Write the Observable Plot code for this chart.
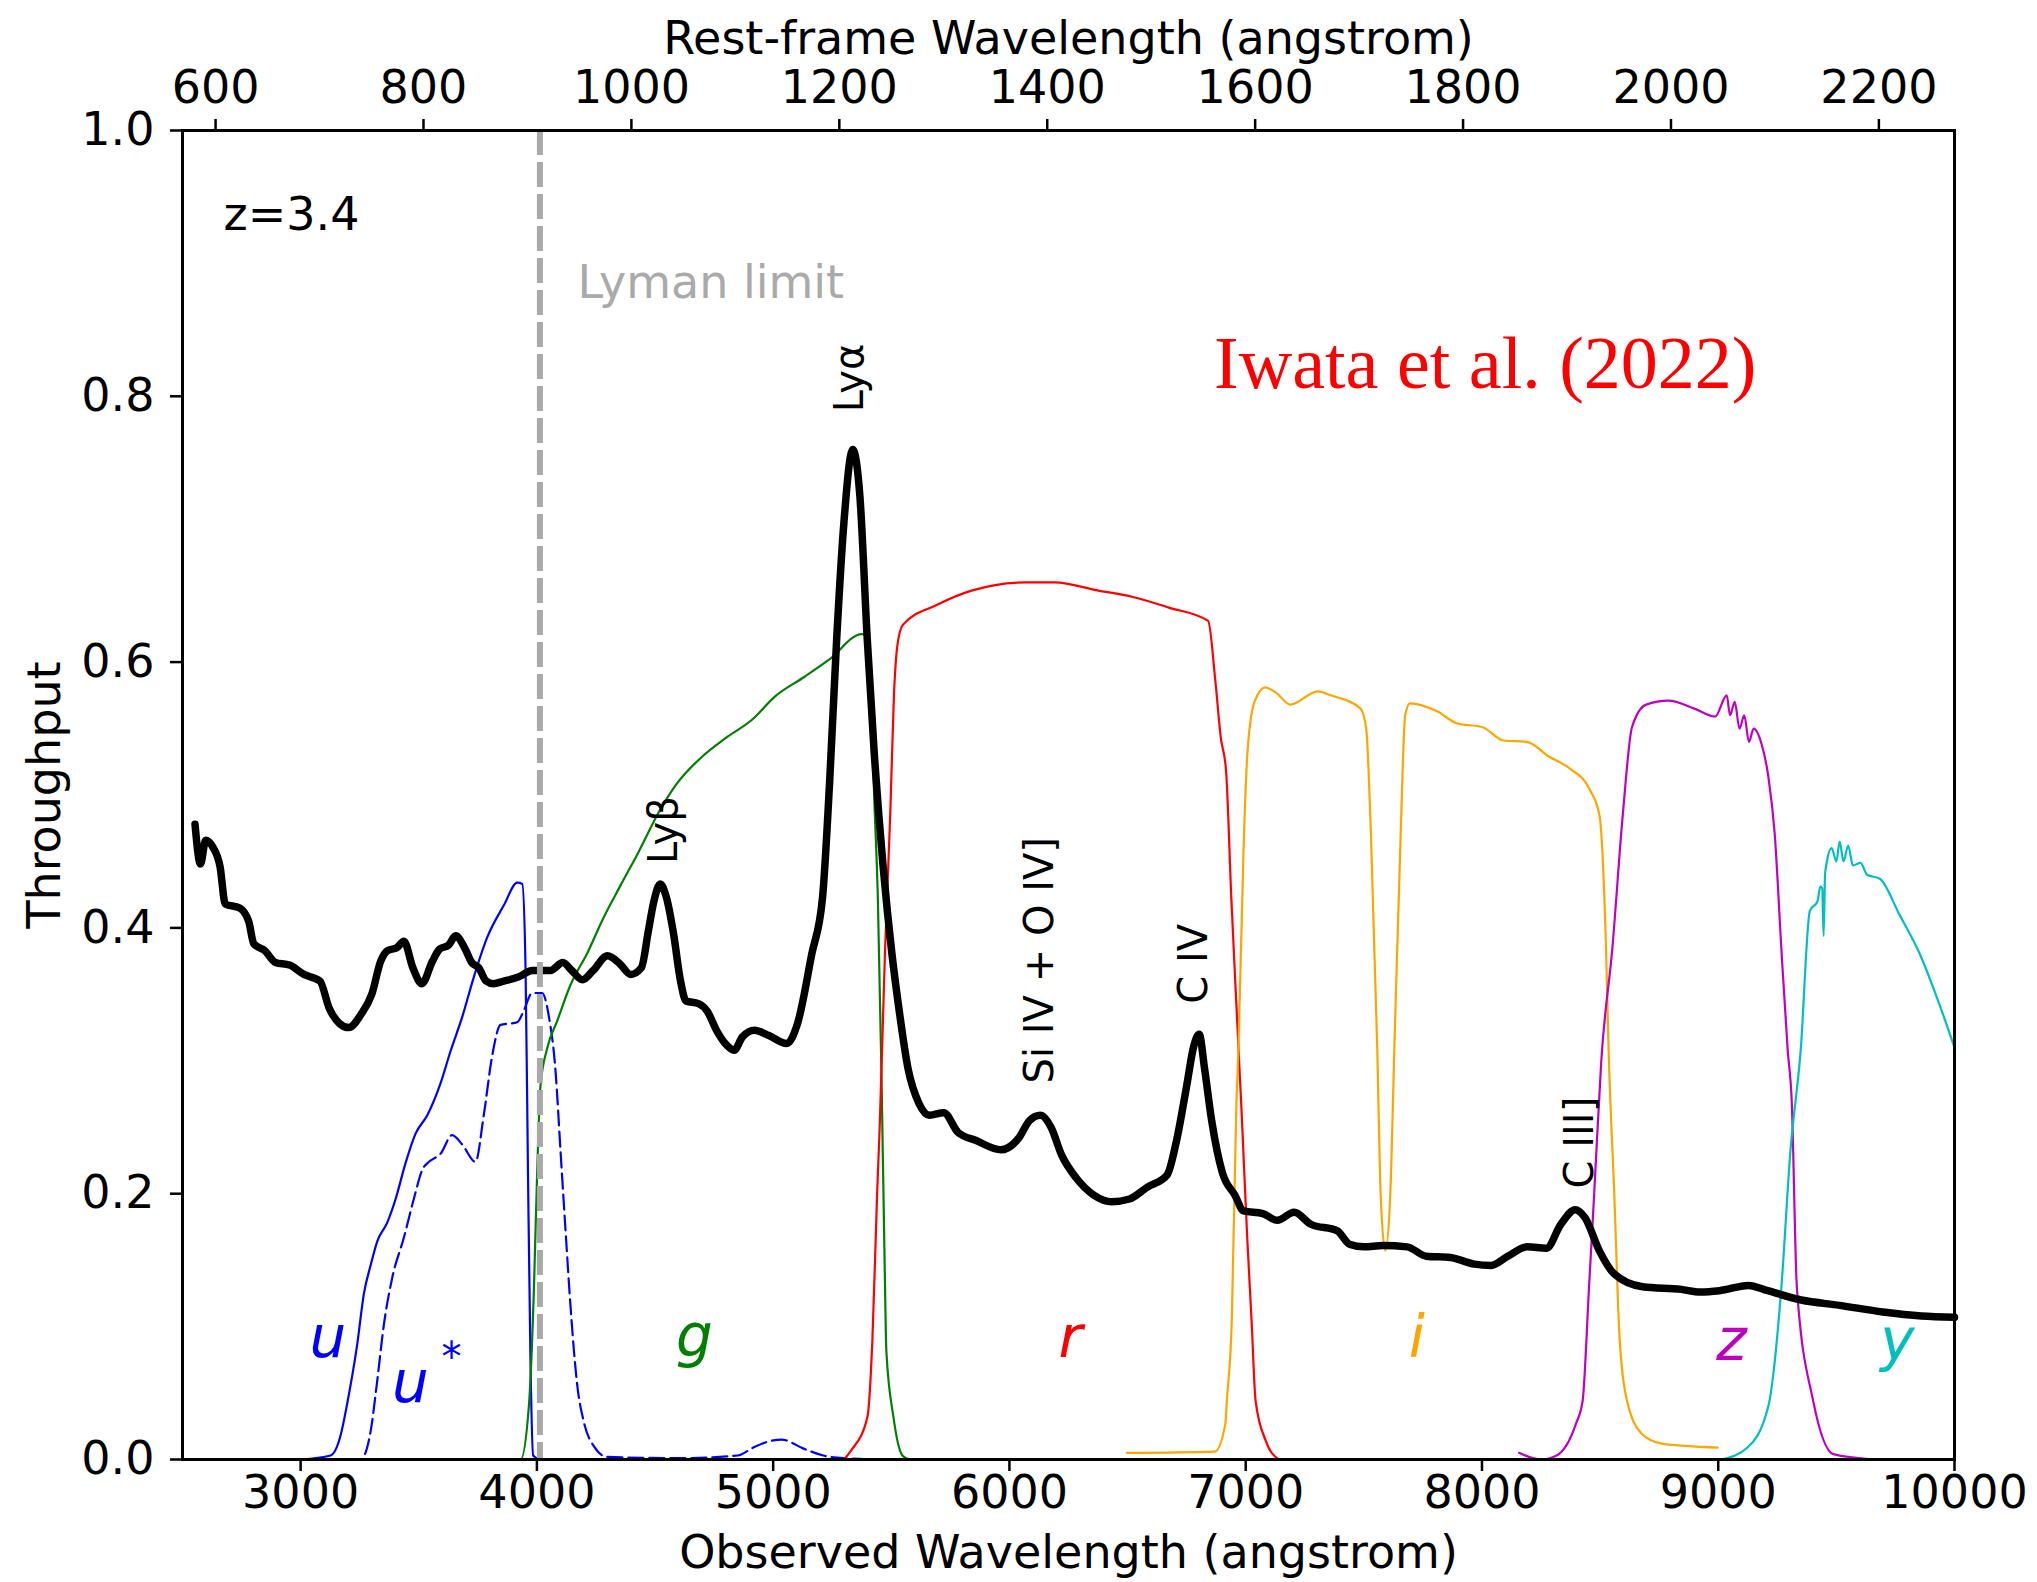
<!DOCTYPE html>
<html>
<head>
<meta charset="utf-8">
<script src="https://cdn.jsdelivr.net/npm/d3@7"></script>
<script src="https://cdn.jsdelivr.net/npm/@observablehq/plot@0.6"></script>
<style>
  html, body { margin: 0; padding: 0; background: #fff; }
  #chart svg { display: block; }
</style>
</head>
<body>
<div id="chart"></div>
<script>
// ---------------- data ----------------
const redshift = 3.4;
const lymanLimitRest = 912;

const obsTicks = [3000, 4000, 5000, 6000, 7000, 8000, 9000, 10000];
const restTicks = [600, 800, 1000, 1200, 1400, 1600, 1800, 2000, 2200];
const yTicks = [0, 0.2, 0.4, 0.6, 0.8, 1.0];

// composite spectrum (black)
const specWave = [2553, 2576, 2598, 2628, 2659, 2681, 2742, 2780, 2802, 2848, 2893, 2953, 3014, 3082, 3120, 3165, 3203, 3256, 3301, 3339, 3369, 3407, 3437, 3475, 3513, 3558, 3588, 3626, 3656, 3694, 3724, 3754, 3785, 3815, 3860, 3921, 3981, 4057, 4110, 4147, 4193, 4238, 4299, 4351, 4397, 4442, 4472, 4495, 4522, 4548, 4578, 4608, 4631, 4684, 4722, 4760, 4797, 4835, 4870, 4921, 4982, 5057, 5103, 5163, 5209, 5239, 5269, 5299, 5337, 5367, 5398, 5428, 5466, 5503, 5534, 5571, 5617, 5662, 5722, 5783, 5859, 5964, 6040, 6085, 6131, 6176, 6221, 6282, 6357, 6433, 6508, 6584, 6667, 6705, 6750, 6780, 6803, 6826, 6856, 6901, 6954, 6991, 7073, 7134, 7205, 7276, 7388, 7439, 7500, 7581, 7683, 7764, 7866, 7968, 8039, 8110, 8191, 8273, 8334, 8395, 8436, 8497, 8558, 8680, 8843, 8924, 9005, 9128, 9209, 9351, 9514, 9697, 9860, 10000];
const specFlux = [0.478, 0.448, 0.466, 0.461, 0.446, 0.418, 0.415, 0.405, 0.388, 0.383, 0.374, 0.372, 0.365, 0.360, 0.340, 0.328, 0.325, 0.335, 0.350, 0.375, 0.383, 0.385, 0.390, 0.370, 0.358, 0.375, 0.384, 0.387, 0.394, 0.385, 0.374, 0.370, 0.360, 0.358, 0.360, 0.363, 0.368, 0.368, 0.374, 0.368, 0.361, 0.368, 0.379, 0.373, 0.365, 0.370, 0.398, 0.420, 0.433, 0.423, 0.396, 0.360, 0.345, 0.343, 0.337, 0.323, 0.313, 0.308, 0.318, 0.323, 0.319, 0.313, 0.328, 0.380, 0.423, 0.510, 0.618, 0.704, 0.760, 0.725, 0.618, 0.531, 0.445, 0.380, 0.337, 0.294, 0.268, 0.259, 0.261, 0.246, 0.240, 0.233, 0.242, 0.255, 0.259, 0.250, 0.229, 0.212, 0.199, 0.194, 0.196, 0.205, 0.214, 0.238, 0.281, 0.311, 0.320, 0.294, 0.255, 0.216, 0.199, 0.187, 0.185, 0.180, 0.186, 0.177, 0.172, 0.162, 0.160, 0.161, 0.160, 0.153, 0.152, 0.147, 0.146, 0.153, 0.160, 0.159, 0.177, 0.188, 0.182, 0.157, 0.140, 0.130, 0.128, 0.126, 0.127, 0.131, 0.127, 0.120, 0.116, 0.111, 0.108, 0.107];

// filter throughputs
const uWave = [3000, 3127, 3169, 3197, 3239, 3268, 3296, 3324, 3366, 3402, 3444, 3486, 3536, 3592, 3634, 3684, 3733, 3790, 3860, 3917, 3938, 3952, 3962, 3973, 3984, 4010];
const uThru = [0, 0.003, 0.018, 0.042, 0.086, 0.125, 0.146, 0.164, 0.178, 0.196, 0.223, 0.245, 0.259, 0.283, 0.307, 0.333, 0.363, 0.393, 0.417, 0.434, 0.433, 0.369, 0.220, 0.072, 0.003, 0];

const ustarWave = [3197, 3254, 3296, 3324, 3352, 3388, 3437, 3479, 3515, 3543, 3592, 3641, 3684, 3740, 3775, 3811, 3846, 3917, 3945, 3980, 4022, 4051, 4079, 4100, 4121, 4142, 4170, 4199, 4241, 4297, 4600, 4850, 4916, 4970, 5035, 5131, 5212, 5300, 5454];
const ustarThru = [0, 0, 0.021, 0.059, 0.101, 0.137, 0.167, 0.196, 0.218, 0.224, 0.230, 0.244, 0.237, 0.224, 0.259, 0.304, 0.327, 0.329, 0.338, 0.351, 0.351, 0.333, 0.292, 0.232, 0.173, 0.116, 0.057, 0.028, 0.010, 0.002, 0.001, 0.003, 0.009, 0.013, 0.015, 0.008, 0.003, 0.001, 0];

const gWave = [3677, 3931, 3966, 3987, 4001, 4015, 4043, 4086, 4142, 4213, 4283, 4354, 4430, 4525, 4590, 4700, 4800, 4913, 5007, 5133, 5238, 5375, 5395, 5415, 5428, 5443, 5458, 5473, 5479, 5509, 5547, 5580, 6000];
const gThru = [0, 0, 0.04, 0.126, 0.215, 0.281, 0.309, 0.330, 0.357, 0.381, 0.408, 0.432, 0.457, 0.490, 0.508, 0.529, 0.543, 0.557, 0.574, 0.589, 0.602, 0.621, 0.620, 0.570, 0.497, 0.423, 0.294, 0.135, 0.082, 0.032, 0.003, 0, 0];

const rWave = [5300, 5331, 5399, 5420, 5440, 5451, 5473, 5496, 5511, 5526, 5549, 5692, 5843, 6070, 6191, 6372, 6523, 6675, 6841, 6871, 6894, 6917, 6939, 6962, 6983, 7007, 7025, 7042, 7085, 7140];
const rThru = [0, 0.007, 0.032, 0.09, 0.20, 0.251, 0.380, 0.488, 0.574, 0.613, 0.628, 0.643, 0.654, 0.660, 0.660, 0.654, 0.649, 0.641, 0.631, 0.587, 0.544, 0.518, 0.423, 0.337, 0.260, 0.165, 0.104, 0.044, 0.014, 0];

const iWave = [6497, 6870, 6914, 6920, 6941, 6961, 6969, 6992, 7007, 7037, 7083, 7128, 7189, 7305, 7360, 7486, 7510, 7530, 7557, 7571, 7591, 7612, 7629, 7656, 7675, 7695, 7810, 7893, 8003, 8091, 8190, 8283, 8371, 8453, 8497, 8525, 8536, 8560, 8580, 8607, 8673, 8761, 8998];
const iThru = [0.005, 0.006, 0.027, 0.044, 0.104, 0.270, 0.308, 0.466, 0.531, 0.570, 0.581, 0.577, 0.568, 0.578, 0.575, 0.565, 0.550, 0.471, 0.308, 0.200, 0.157, 0.200, 0.308, 0.471, 0.560, 0.569, 0.563, 0.554, 0.551, 0.541, 0.540, 0.529, 0.520, 0.505, 0.485, 0.385, 0.308, 0.200, 0.100, 0.050, 0.020, 0.012, 0.009];

const zWave = [8157, 8250, 8316, 8398, 8426, 8453, 8475, 8505, 8552, 8596, 8635, 8695, 8789, 8899, 8987, 9036, 9050, 9070, 9090, 9110, 9130, 9150, 9184, 9212, 9239, 9267, 9294, 9311, 9333, 9402, 9487, 9657];
const zThru = [0.005, 0, 0.003, 0.027, 0.044, 0.129, 0.200, 0.300, 0.385, 0.485, 0.551, 0.568, 0.571, 0.565, 0.559, 0.575, 0.560, 0.570, 0.550, 0.560, 0.540, 0.550, 0.538, 0.514, 0.471, 0.385, 0.308, 0.270, 0.129, 0.044, 0.004, 0];

const yWave = [9014, 9124, 9212, 9267, 9305, 9349, 9388, 9420, 9432, 9440, 9446, 9452, 9459, 9480, 9500, 9514, 9530, 9550, 9570, 9602, 9630, 9684, 9767, 9849, 9937, 10000];
const yThru = [0, 0.009, 0.040, 0.129, 0.231, 0.308, 0.413, 0.420, 0.431, 0.430, 0.394, 0.440, 0.449, 0.460, 0.450, 0.465, 0.450, 0.462, 0.447, 0.449, 0.440, 0.437, 0.410, 0.382, 0.342, 0.310];

const filterNames = ["u", "u*", "g", "r", "i", "z", "y"];
const filterColors = ["#0000ff", "#0000ff", "#008000", "#ff0000", "#ffa500", "#bf00bf", "#00bfbf"];
const filterDash = [null, "15,6", null, null, null, null, null];

// filter labels
const fLabelText = ["u", "u", "g", "r", "i", "z", "y"];
const fLabelX = [3115, 3465, 4667, 6258, 7724, 9056, 9758];
const fLabelY = [0.077, 0.043, 0.078, 0.077, 0.077, 0.075, 0.075];
const fLabelColor = ["#0000ff", "#0000ff", "#008000", "#ff0000", "#ffa500", "#bf00bf", "#00bfbf"];
const starX = [3639], starY = [0.076];

// emission line labels
const lineText = ["Lyβ", "Lyα", "Si IV + O IV]", "C IV", "C III]"];
const lineX = [4540, 5325, 6131, 6780, 8415];
const lineY = [0.448, 0.788, 0.283, 0.343, 0.204];

// annotations
const zText = ["z=3.4"], zX = [2674], zY = [0.925];
const llText = ["Lyman limit"], llX = [4172], llY = [0.874];
const refText = ["Iwata et al. (2022)"], refX = [8014], refY = [0.806];

// ---------------- build ----------------
const spec = specWave.map((w, i) => ({w, f: specFlux[i]}));
const filterWaves = [uWave, ustarWave, gWave, rWave, iWave, zWave, yWave];
const filterThrus = [uThru, ustarThru, gThru, rThru, iThru, zThru, yThru];
const filterMarks = filterNames.map((name, k) => {
  const data = filterWaves[k].map((w, i) => ({w, t: filterThrus[k][i]}));
  const opts = {x: "w", y: "t", stroke: filterColors[k], strokeWidth: 2.2, curve: "monotone-x"};
  if (filterDash[k]) opts.strokeDasharray = filterDash[k];
  return Plot.line(data, opts);
});
const fLabels = fLabelText.map((t, i) => ({t, x: fLabelX[i], y: fLabelY[i], c: fLabelColor[i]}));
const lLabels = lineText.map((t, i) => ({t, x: lineX[i], y: lineY[i]}));

const onePlusZ = 1 + redshift;

const chart = Plot.plot({
  width: 2037,
  height: 1582,
  marginLeft: 182,
  marginRight: 83,
  marginTop: 130,
  marginBottom: 123,
  x: {domain: [2500, 10000]},
  y: {domain: [0, 1]},
  style: {fontFamily: "DejaVu Sans", fontSize: "46px", background: "white", color: "black"},
  marks: [
    ...filterMarks,
    Plot.line(spec, {x: "w", y: "f", stroke: "black", strokeWidth: 7.5, strokeLinejoin: "round", strokeLinecap: "round", curve: "monotone-x"}),
    Plot.ruleX([lymanLimitRest * onePlusZ], {stroke: "#a9a9a9", strokeWidth: 6, strokeDasharray: "25,7"}),
    Plot.text(fLabels, {x: "x", y: "y", text: "t", fill: "c", fontSize: 58, fontStyle: "italic", lineAnchor: "bottom", textAnchor: "middle"}),
    Plot.text(["*"], {x: starX, y: starY, fill: "#0000ff", fontSize: 40, textAnchor: "middle"}),
    Plot.text(lLabels, {x: "x", y: "y", text: "t", rotate: -90, textAnchor: "start", fontSize: 40, fill: "black"}),
    Plot.text(zText, {x: zX, y: zY, textAnchor: "start", lineAnchor: "bottom", fill: "black"}),
    Plot.text(llText, {x: llX, y: llY, textAnchor: "start", lineAnchor: "bottom", fill: "#aaaaaa"}),
    Plot.text(refText, {x: refX, y: refY, textAnchor: "middle", lineAnchor: "bottom", fill: "#ff0000", fontFamily: "Liberation Serif", fontSize: 74}),
    Plot.frame({stroke: "black", strokeWidth: 3}),
    Plot.axisX(obsTicks, {anchor: "bottom", tickSize: 12, tickPadding: 4, strokeWidth: 2.5, tickFormat: d => String(d), label: null}),
    Plot.axisX(restTicks.map(r => r * onePlusZ), {anchor: "top", tickSize: 12, tickPadding: 16, strokeWidth: 2.5, tickFormat: d => String(Math.round(d / onePlusZ)), label: null}),
    Plot.axisY(yTicks, {anchor: "left", tickSize: 12, tickPadding: 16, strokeWidth: 2.5, tickFormat: d3.format(".1f"), label: null}),
    Plot.text(["Rest-frame Wavelength (angstrom)"], {frameAnchor: "top", dy: -77, lineAnchor: "bottom", textAnchor: "middle", fill: "black"}),
    Plot.text(["Observed Wavelength (angstrom)"], {frameAnchor: "bottom", dy: 108, lineAnchor: "bottom", textAnchor: "middle", fill: "black"}),
    Plot.text(["Throughput"], {frameAnchor: "left", dx: -137, rotate: -90, textAnchor: "middle", fill: "black"})
  ]
});
document.getElementById("chart").appendChild(chart);
</script>
</body>
</html>
